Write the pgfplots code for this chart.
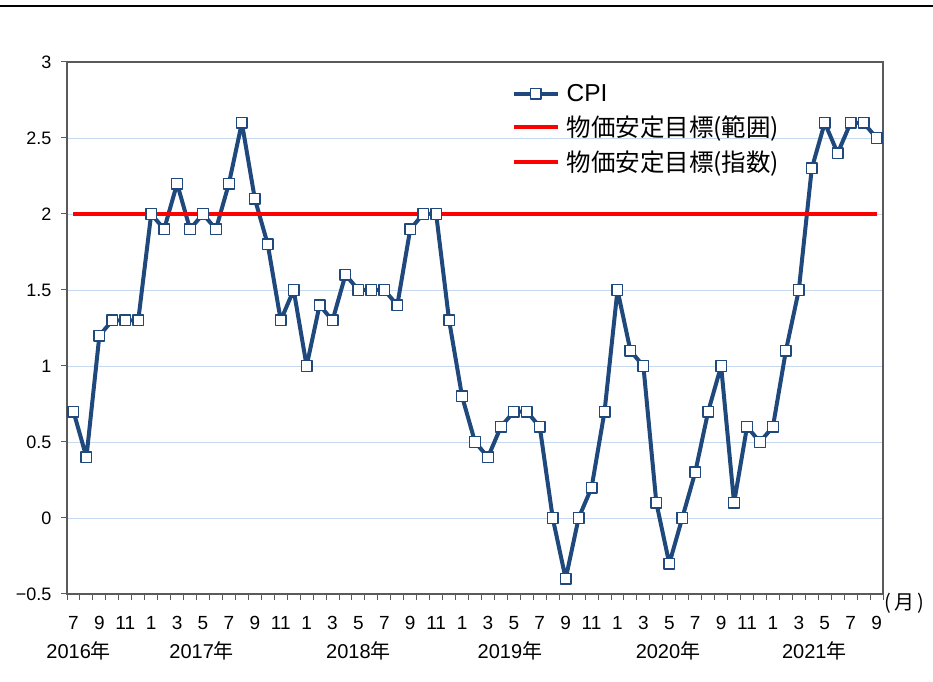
\documentclass[border=0pt]{standalone}
\usepackage{fontspec}
\setmainfont{Liberation Sans}
\newfontfamily\jp{Noto Sans CJK JP}
\usepackage{pgfplots}
\pgfplotsset{compat=1.18}
\definecolor{cpiblue}{RGB}{31,73,125}
\definecolor{gridblue}{RGB}{198,217,240}
\definecolor{axgray}{RGB}{90,90,90}
\begin{document}
\begin{tikzpicture}[x=1bp,y=1bp]
\path[use as bounding box] (0,0) rectangle (933,682);
\draw[line width=2bp, black] (0,676) -- (933,676);
\begin{axis}[
  at={(67bp,88bp)}, anchor=south west,
  scale only axis, width=816bp, height=532bp,
  clip=false,
  xmin=-0.5, xmax=62.5, ymin=-0.5, ymax=3,
  ytick={-0.5,0,0.5,1,1.5,2,2.5,3},
  yticklabels={−0.5,0,0.5,1,1.5,2,2.5,3},
  xtick={-0.5,0.5,...,62.5},
  xticklabels={},
  extra x ticks={0,2,...,62},
  extra x tick labels={7,9,11,1,3,5,7,9,11,1,3,5,7,9,11,1,3,5,7,9,11,1,3,5,7,9,11,1,3,5,7,9},
  extra x tick style={major tick length=0pt, xticklabel style={yshift=-19bp, font=\fontsize{19bp}{21bp}\selectfont}},
  tick align=outside,
  xtick pos=bottom, ytick pos=left,
  major tick length=6bp,
  tick style={axgray, line width=1bp},
  axis line style={axgray, line width=1.2bp},
  ymajorgrids,
  major grid style={gridblue, line width=0.8bp},
  tick label style={font=\fontsize{18bp}{20bp}\selectfont},
  yticklabel style={xshift=-6bp},
  legend style={draw=none, fill=none, at={(0.541,0.966)}, anchor=north west,
    font=\fontsize{24.5bp}{28bp}\selectfont, row sep=9bp,
    /tikz/every odd column/.append style={column sep=5bp}},
  legend cell align=left,
  legend image code/.code={\draw[#1, mark repeat=2, mark phase=2] plot coordinates {(0bp,0bp) (22bp,0bp) (44bp,0bp)};},
]
\addplot[cpiblue, line width=4bp, line join=round, mark=square*, mark size=5.3bp,
  mark options={fill=white, draw=cpiblue, line width=1.4bp, solid}] coordinates {
(0,0.7) (1,0.4) (2,1.2) (3,1.3) (4,1.3) (5,1.3)
(6,2.0) (7,1.9) (8,2.2) (9,1.9) (10,2.0) (11,1.9) (12,2.2) (13,2.6) (14,2.1) (15,1.8) (16,1.3) (17,1.5)
(18,1.0) (19,1.4) (20,1.3) (21,1.6) (22,1.5) (23,1.5) (24,1.5) (25,1.4) (26,1.9) (27,2.0) (28,2.0) (29,1.3)
(30,0.8) (31,0.5) (32,0.4) (33,0.6) (34,0.7) (35,0.7) (36,0.6) (37,0.0) (38,-0.4) (39,0.0) (40,0.2) (41,0.7)
(42,1.5) (43,1.1) (44,1.0) (45,0.1) (46,-0.3) (47,0.0) (48,0.3) (49,0.7) (50,1.0) (51,0.1) (52,0.6) (53,0.5)
(54,0.6) (55,1.1) (56,1.5) (57,2.3) (58,2.6) (59,2.4) (60,2.6) (61,2.6) (62,2.5)
};
\addlegendentry{CPI}
\addplot[red, line width=4bp] coordinates {(0,2) (62,2)};
\addlegendentry{{\jp 物価安定目標(範囲)}}
\addplot[red, line width=4bp] coordinates {(0,2) (62,2)};
\addlegendentry{{\jp 物価安定目標(指数)}}
\begin{scope}[font=\fontsize{20bp}{22bp}\selectfont]
\node at (axis cs:0.4,-0.5) [yshift=-57bp] {2016{\jp 年}};
\node at (axis cs:9.9,-0.5) [yshift=-57bp] {2017{\jp 年}};
\node at (axis cs:22,-0.5) [yshift=-57bp] {2018{\jp 年}};
\node at (axis cs:33.7,-0.5) [yshift=-57bp] {2019{\jp 年}};
\node at (axis cs:45.9,-0.5) [yshift=-57bp] {2020{\jp 年}};
\node at (axis cs:57.2,-0.5) [yshift=-57bp] {2021{\jp 年}};
\node at (axis cs:62.5,-0.5) [anchor=west, yshift=-9bp, inner sep=1bp] {{\jp (\,月\,)}};
\end{scope}
\end{axis}
\end{tikzpicture}
\end{document}
